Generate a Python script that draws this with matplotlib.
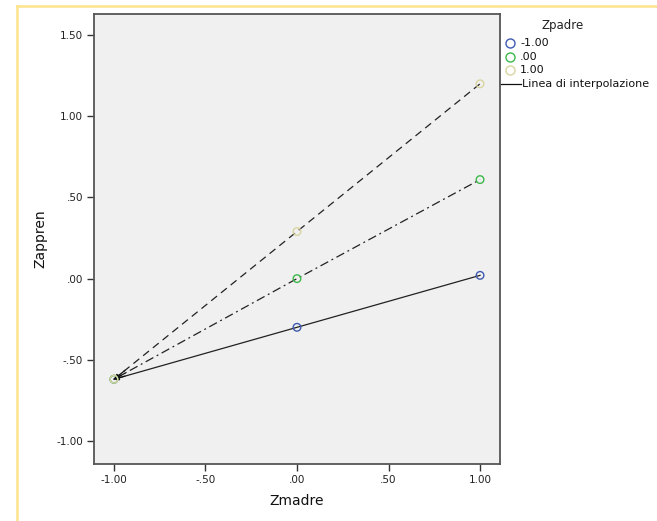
import matplotlib
matplotlib.use("Agg")
import matplotlib.pyplot as plt
from matplotlib.lines import Line2D

zmadre = [-1.0, 0.0, 1.0]
groups = ["-1.00", ".00", "1.00"]
zappren = {
    "-1.00": [-0.62, -0.30, 0.02],
    ".00": [-0.62, 0.00, 0.61],
    "1.00": [-0.62, 0.29, 1.20],
}
colors = {"-1.00": "#3e5ab0", ".00": "#3cb84a", "1.00": "#d9d5a0"}
styles = {"-1.00": "-", ".00": (0, (7, 3, 1.5, 3)), "1.00": (0, (6, 4))}
xticks = [-1.0, -0.5, 0.0, 0.5, 1.0]
xticklabels = ["-1.00", "-.50", ".00", ".50", "1.00"]
yticks = [-1.0, -0.5, 0.0, 0.5, 1.0, 1.5]
yticklabels = ["-1.00", "-.50", ".00", ".50", "1.00", "1.50"]

W, H = 657, 521
fig = plt.figure(figsize=(W / 100, H / 100), dpi=100)
fig.patch.set_facecolor("white")

# yellow frame
fig.add_artist(Line2D([17 / W, 17 / W], [0, 1 - 6 / H], transform=fig.transFigure,
                      color="#fde38a", lw=1.8))
fig.add_artist(Line2D([17 / W, 1], [1 - 6 / H, 1 - 6 / H], transform=fig.transFigure,
                      color="#fde38a", lw=1.8))

ax = fig.add_axes([94 / W, 1 - 464 / H, (500 - 94) / W, (464 - 14) / H])
ax.set_facecolor("#f0f0f0")
ax.set_xlim(-1.109, 1.109)
ax.set_ylim(-1.142, 1.63)

for g in groups:
    ys = zappren[g]
    ax.plot(zmadre, ys, linestyle=styles[g], color="#222222", lw=0.9, zorder=2)
    dx = zmadre[1] - zmadre[0]
    dy = ys[1] - ys[0]
    ax.annotate("", xy=(zmadre[0], ys[0]), xytext=(zmadre[0] + dx * 0.06, ys[0] + dy * 0.06),
                arrowprops=dict(arrowstyle="-|>", color="#111111", lw=0.9,
                                mutation_scale=7, shrinkA=0, shrinkB=0), zorder=3)
    ax.scatter(zmadre, ys, s=30, facecolors="none", edgecolors=colors[g], linewidths=1.0, zorder=4)

ax.set_xticks(xticks)
ax.set_xticklabels(xticklabels)
ax.set_yticks(yticks)
ax.set_yticklabels(yticklabels)
ax.tick_params(direction="out", length=5, width=1, color="#333333", labelsize=7.5,
               labelcolor="#222222", pad=3)
for side in ["left", "right", "top", "bottom"]:
    ax.spines[side].set_color("#555555")
    ax.spines[side].set_linewidth(1.3)

ax.set_xlabel("Zmadre", fontsize=10, color="#111111")
ax.set_ylabel("Zappren", fontsize=10, color="#111111")
ax.xaxis.set_label_coords(0.5, -(501 - 464) / 450, transform=ax.transAxes)
ax.yaxis.set_label_coords(-(94 - 40) / 406, 0.5, transform=ax.transAxes)
ax.xaxis.label.set_va("center")
ax.yaxis.label.set_va("center")

# legend (manual)
fig.text(563 / W, 1 - 26 / H, "Zpadre", fontsize=8.5, ha="center", va="center", color="#222222")
leg_items = [("-1.00", 43), (".00", 57), ("1.00", 70)]
for g, yp in leg_items:
    fig.add_artist(Line2D([510 / W], [1 - yp / H], transform=fig.transFigure, marker="o",
                          markersize=6.5, markerfacecolor="none", markeredgecolor=colors[g],
                          markeredgewidth=1.0, linestyle="none"))
    fig.text(520 / W, 1 - yp / H, g, fontsize=8, ha="left", va="center", color="#111111")
fig.add_artist(Line2D([501 / W, 521 / W], [1 - 84 / H, 1 - 84 / H], transform=fig.transFigure,
                      color="#111111", lw=0.9))
fig.text(522 / W, 1 - 84 / H, "Linea di interpolazione", fontsize=8, ha="left", va="center",
         color="#111111")

fig.savefig("out.png", dpi=100)
